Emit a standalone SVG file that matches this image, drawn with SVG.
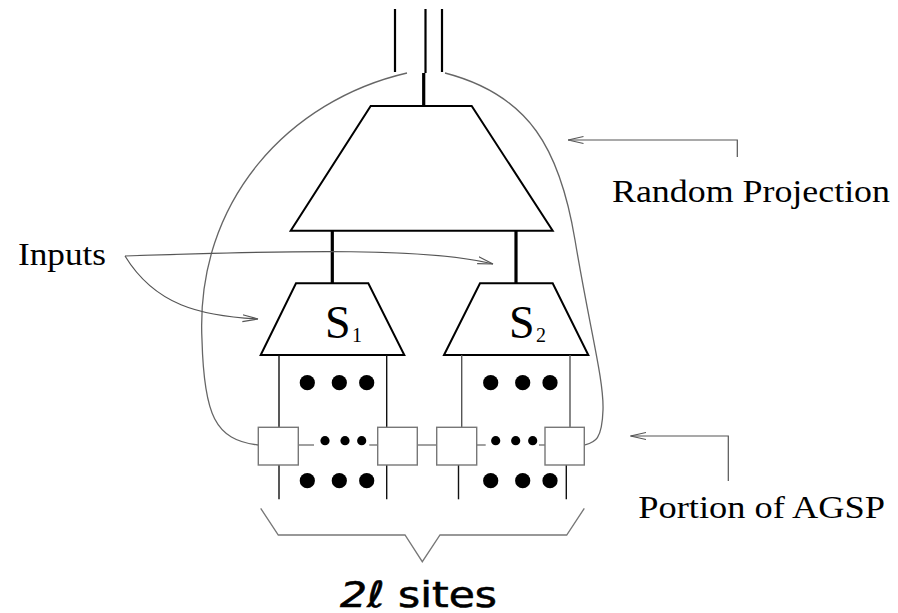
<svg xmlns="http://www.w3.org/2000/svg" width="898" height="613" viewBox="0 0 898 613">
  <defs>
    <marker id="open" viewBox="0 0 16 10" refX="15.5" refY="5" markerWidth="16" markerHeight="10" markerUnits="userSpaceOnUse" orient="auto">
      <path d="M0,1.5 L15.5,5 L0,8.5" fill="none" stroke="#555" stroke-width="1.2"/>
    </marker>
  </defs>
  <style>
    .trap { fill: #fff; stroke: #000; stroke-width: 2; stroke-linejoin: miter; }
    .stem { stroke: #000; stroke-width: 3.2; }
    .bus { stroke: #000; stroke-width: 2.2; }
    .wire { stroke: #111; stroke-width: 1.4; }
    .wire2 { stroke: #555; stroke-width: 1.4; }
    .site { fill: #fff; stroke: #777; stroke-width: 1.4; }
    .link { stroke: #777; stroke-width: 1.4; }
    .curve { fill: none; stroke: #666; stroke-width: 1.3; }
    .lead { fill: none; stroke: #555; stroke-width: 1.2; }
    .dot { fill: #000; }
    .label { font-family: "Liberation Serif", "Times New Roman", serif; font-size: 31px; fill: #000; }
    .sname { font-family: "Liberation Serif", "Times New Roman", serif; font-size: 46px; fill: #000; }
    .sub { font-family: "Liberation Serif", "Times New Roman", serif; font-size: 20px; fill: #000; }
    .hand { font-family: "DejaVu Sans", "Noto Sans", sans-serif; font-size: 36px; fill: #000; stroke: #000; stroke-width: 0.6; }
  </style>

  <!-- output bus leaving the projection -->
  <g id="bus">
    <line class="bus" x1="395" y1="9" x2="395" y2="72" stroke-width="1.8"/>
    <line class="bus" x1="425.5" y1="9" x2="425.5" y2="73"/>
    <line class="bus" x1="442" y1="9" x2="442" y2="72"/>
  </g>

  <!-- connectors -->
  <g id="connectors">
    <line class="stem" x1="423.7" y1="73" x2="423.7" y2="106"/>
    <line class="stem" x1="332.3" y1="230" x2="332.3" y2="284"/>
    <line class="stem" x1="516" y1="230" x2="516" y2="284"/>

    <!-- loops from the end sites back up to the bus -->
    <path class="curve" d="M407,73 C290,100 195,200 202,340 C204,415 215,440 258,445"/>
    <path class="curve" d="M445,73 C530,95 560,150 575,240 S604,380 603,410 S595,442 585,445"/>

    <!-- input leaders -->
    <path class="lead" marker-end="url(#open)" d="M125,256 C300,250 430,248 493,264"/>
    <path class="lead" marker-end="url(#open)" d="M125,256 C155,305 200,316 258,319"/>

    <!-- label leaders -->
    <path class="lead" marker-end="url(#open)" d="M737.3,157 L737.3,140 L568,140"/>
    <path class="lead" marker-end="url(#open)" d="M728.3,481 L728.3,436 L630.5,436"/>

    <!-- brace under the sites -->
    <path fill="none" stroke="#777" stroke-width="1.3" d="M260.7,508.3 L278.3,535 L405,535 L422.3,561.7 L440,535 L566.7,535 L584.3,508.3"/>
  </g>

  <!-- random projection -->
  <g id="projection">
    <polygon class="trap" points="370.7,106 471.7,106 552.7,230.7 290.7,230.7"/>
  </g>

  <!-- S1 column -->
  <g id="s1">
    <polygon class="trap" points="296,283.3 368.3,283.3 404.3,355 260.7,355"/>
    <text class="sname" x="325" y="338">S</text>
    <text class="sub" x="352" y="342">1</text>
    <line class="wire" x1="279" y1="355" x2="279" y2="427.3"/>
    <line class="wire" x1="386.7" y1="355" x2="386.7" y2="427.3"/>
    <line class="wire" x1="279" y1="465" x2="279" y2="499.3"/>
    <line class="wire" x1="386.7" y1="465" x2="386.7" y2="499.3"/>
    <circle class="dot" cx="307.3" cy="382.7" r="7.6"/>
    <circle class="dot" cx="339.3" cy="382.7" r="7.6"/>
    <circle class="dot" cx="366.7" cy="382.7" r="7.6"/>
    <circle class="dot" cx="307.3" cy="480.7" r="7.6"/>
    <circle class="dot" cx="339.3" cy="480.7" r="7.6"/>
    <circle class="dot" cx="366.7" cy="480.7" r="7.6"/>
    <circle class="dot" cx="325" cy="440.7" r="4.6"/>
    <circle class="dot" cx="345" cy="440.7" r="4.6"/>
    <circle class="dot" cx="361.7" cy="440.7" r="4.6"/>
    <line class="link" x1="298.3" y1="445" x2="314" y2="445"/>
    <line class="link" x1="369.3" y1="445" x2="377.7" y2="445"/>
    <rect class="site" x="258.3" y="427.3" width="40" height="37.7"/>
    <rect class="site" x="377.7" y="427.3" width="39.6" height="37.7"/>
  </g>

  <!-- link between the two columns -->
  <g id="bridge">
    <line class="link" x1="417.3" y1="445" x2="436.7" y2="445"/>
  </g>

  <!-- S2 column -->
  <g id="s2">
    <polygon class="trap" points="480,283.3 552.7,283.3 588.3,355 444,355"/>
    <text class="sname" x="509" y="338">S</text>
    <text class="sub" x="536" y="342">2</text>
    <line class="wire2" x1="461.7" y1="355" x2="461.7" y2="427.3"/>
    <line class="wire2" x1="570" y1="355" x2="570" y2="427.3"/>
    <line class="wire" x1="458.5" y1="465" x2="458.5" y2="499.3"/>
    <line class="wire" x1="566.3" y1="465" x2="566.3" y2="499.3"/>
    <circle class="dot" cx="490.7" cy="382.7" r="7.6"/>
    <circle class="dot" cx="522.7" cy="382.7" r="7.6"/>
    <circle class="dot" cx="550" cy="382.7" r="7.6"/>
    <circle class="dot" cx="490.7" cy="480.7" r="7.6"/>
    <circle class="dot" cx="522.7" cy="480.7" r="7.6"/>
    <circle class="dot" cx="550" cy="480.7" r="7.6"/>
    <circle class="dot" cx="495.7" cy="440.7" r="4.6"/>
    <circle class="dot" cx="515.7" cy="440.7" r="4.6"/>
    <circle class="dot" cx="532.7" cy="440.7" r="4.6"/>
    <line class="link" x1="476.7" y1="445" x2="485.7" y2="445"/>
    <line class="link" x1="539" y1="445" x2="545" y2="445"/>
    <rect class="site" x="436.7" y="427.3" width="40" height="37.7"/>
    <rect class="site" x="545" y="427.3" width="39.3" height="37.7"/>
  </g>

  <!-- labels -->
  <g id="labels">
    <text class="label" x="18" y="265" textLength="88" lengthAdjust="spacingAndGlyphs">Inputs</text>
    <text class="label" x="612" y="201.7" textLength="278" lengthAdjust="spacingAndGlyphs">Random Projection</text>
    <text class="label" x="638.3" y="518.3" textLength="246.7" lengthAdjust="spacingAndGlyphs">Portion of AGSP</text>
    <text class="hand" x="340" y="606.7" textLength="157" lengthAdjust="spacingAndGlyphs"><tspan font-style="italic">2ℓ</tspan> sites</text>
  </g>
</svg>
